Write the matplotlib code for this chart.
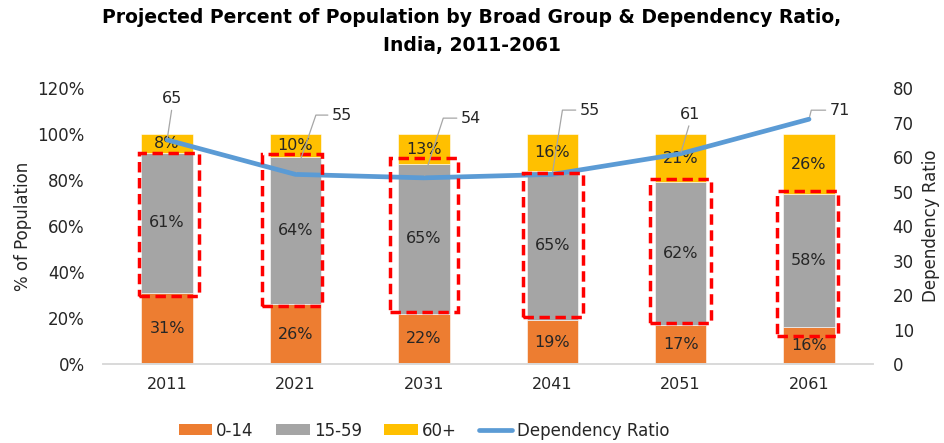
import matplotlib
matplotlib.use("Agg")
import matplotlib.pyplot as plt
import numpy as np
from matplotlib.patches import Patch, Rectangle
from matplotlib.lines import Line2D

plt.rcParams["font.family"] = ["DejaVu Sans"]

# ---- data ----
YEARS = ["2011", "2021", "2031", "2041", "2051", "2061"]
AGE_0_14 = [31, 26, 22, 19, 17, 16]
AGE_15_59 = [61, 64, 65, 65, 62, 58]
AGE_60_PLUS = [8, 10, 13, 16, 21, 26]
DEP_RATIO = [65, 55, 54, 55, 61, 71]

# hand-drawn red dashed boxes around the working-age segment (percent units)
BOX_LEFT = [-0.22, -0.257, -0.265, -0.224, -0.238, -0.252]
BOX_RIGHT = [0.25, 0.206, 0.267, 0.239, 0.235, 0.224]
BOX_BOTTOM = [29.6, 25.3, 22.5, 20.3, 18.0, 12.3]
BOX_TOP = [91.9, 91.3, 89.7, 83.2, 80.4, 75.1]

# dependency-ratio label offsets (points) and leader angles
DR_OFFSETS = [(3.7, 29.7), (33.6, 42.7), (34, 43), (27.2, 46.3), (6.8, 28.4), (22.3, 6.5)]
DR_LEADER = [None, 71, 72, 81, None, 76]

C_YOUNG = "#ED7D31"
C_WORK = "#A5A5A5"
C_OLD = "#FFC000"
C_LINE = "#5B9BD5"
TXT = "#262626"

fig = plt.figure(figsize=(9.44, 4.43), dpi=100)
ax = fig.add_axes([0.109, 0.178, 0.816, 0.623])
ax2 = ax.twinx()

x = np.arange(len(YEARS))
w = 0.4
young = np.array(AGE_0_14) / 100
work = np.array(AGE_15_59) / 100
old = np.array(AGE_60_PLUS) / 100

b1 = ax.bar(x, young, w, color=C_YOUNG, edgecolor="white", linewidth=0.4)
b2 = ax.bar(x, work, w, bottom=young, color=C_WORK, edgecolor="white", linewidth=0.4)
b3 = ax.bar(x, old, w, bottom=young + work, color=C_OLD, edgecolor="white", linewidth=0.4)
for bars, vals in [(b1, AGE_0_14), (b2, AGE_15_59), (b3, AGE_60_PLUS)]:
    ax.bar_label(bars, labels=[f"{v}%" for v in vals], label_type="center",
                 fontsize=11.5, color=TXT)

ax.set_xlim(-0.5, len(YEARS) - 0.5)
ax.set_ylim(0, 1.2)
ax.set_yticks(np.arange(0, 1.21, 0.2))
ax.set_yticklabels([f"{int(round(v * 100))}%" for v in np.arange(0, 1.21, 0.2)])
ax.set_xticks(x)
ax.set_xticklabels(YEARS)
ax.tick_params(axis="y", length=0, pad=13, labelsize=12, labelcolor=TXT)
ax.tick_params(axis="x", length=0, pad=9, labelsize=11.5, labelcolor=TXT)
ax.set_ylabel("% of Population", fontsize=12, color=TXT, labelpad=4)

ax2.plot(x, DEP_RATIO, color=C_LINE, lw=3.4, solid_capstyle="round", zorder=3)
ax2.set_ylim(0, 80)
ax2.set_yticks(range(0, 81, 10))
ax2.tick_params(axis="y", length=0, pad=14, labelsize=12, labelcolor=TXT)
ax2.set_ylabel("Dependency Ratio", fontsize=12, color=TXT, labelpad=6)

for a in (ax, ax2):
    for s in ("top", "left", "right"):
        a.spines[s].set_visible(False)
    a.spines["bottom"].set_color("#D9D9D9")
    a.spines["bottom"].set_linewidth(1.2)

for i in range(len(YEARS)):
    rect = Rectangle((x[i] + BOX_LEFT[i], BOX_BOTTOM[i] / 100),
                     BOX_RIGHT[i] - BOX_LEFT[i], (BOX_TOP[i] - BOX_BOTTOM[i]) / 100,
                     transform=ax.transData, fill=False, edgecolor="#FF0000",
                     lw=2.5, linestyle=(0, (3, 1.6)), zorder=4)
    ax2.add_patch(rect)

for i, v in enumerate(DEP_RATIO):
    if DR_LEADER[i] is None:
        props = dict(arrowstyle="-", color="#A6A6A6", lw=0.9, shrinkA=1, shrinkB=1,
                     relpos=(0.5, 0))
    else:
        props = dict(arrowstyle="-", color="#A6A6A6", lw=0.9, shrinkA=1, shrinkB=2,
                     relpos=(0, 0.5),
                     connectionstyle=f"angle,angleA=0,angleB={DR_LEADER[i]},rad=0")
    ax2.annotate(str(v), xy=(x[i], v), xytext=DR_OFFSETS[i], textcoords="offset points",
                 ha="center", va="center", fontsize=11.5, color=TXT,
                 arrowprops=props, zorder=5)

fig.suptitle("Projected Percent of Population by Broad Group & Dependency Ratio,\nIndia, 2011-2061",
             x=0.5, y=0.982, fontsize=13.5, fontweight="bold", color="black", linespacing=1.6)

handles = [Patch(facecolor=C_YOUNG), Patch(facecolor=C_WORK), Patch(facecolor=C_OLD),
           Line2D([0], [0], color=C_LINE, lw=3.4, solid_capstyle="round")]
fig.legend(handles, ["0-14", "15-59", "60+", "Dependency Ratio"], loc="center",
           bbox_to_anchor=(0.449, 0.028), ncol=4, frameon=False, fontsize=12,
           handlelength=2.0, handleheight=0.6, handletextpad=0.25, columnspacing=1.35,
           labelcolor=TXT)

fig.savefig("out.png", dpi=100)
